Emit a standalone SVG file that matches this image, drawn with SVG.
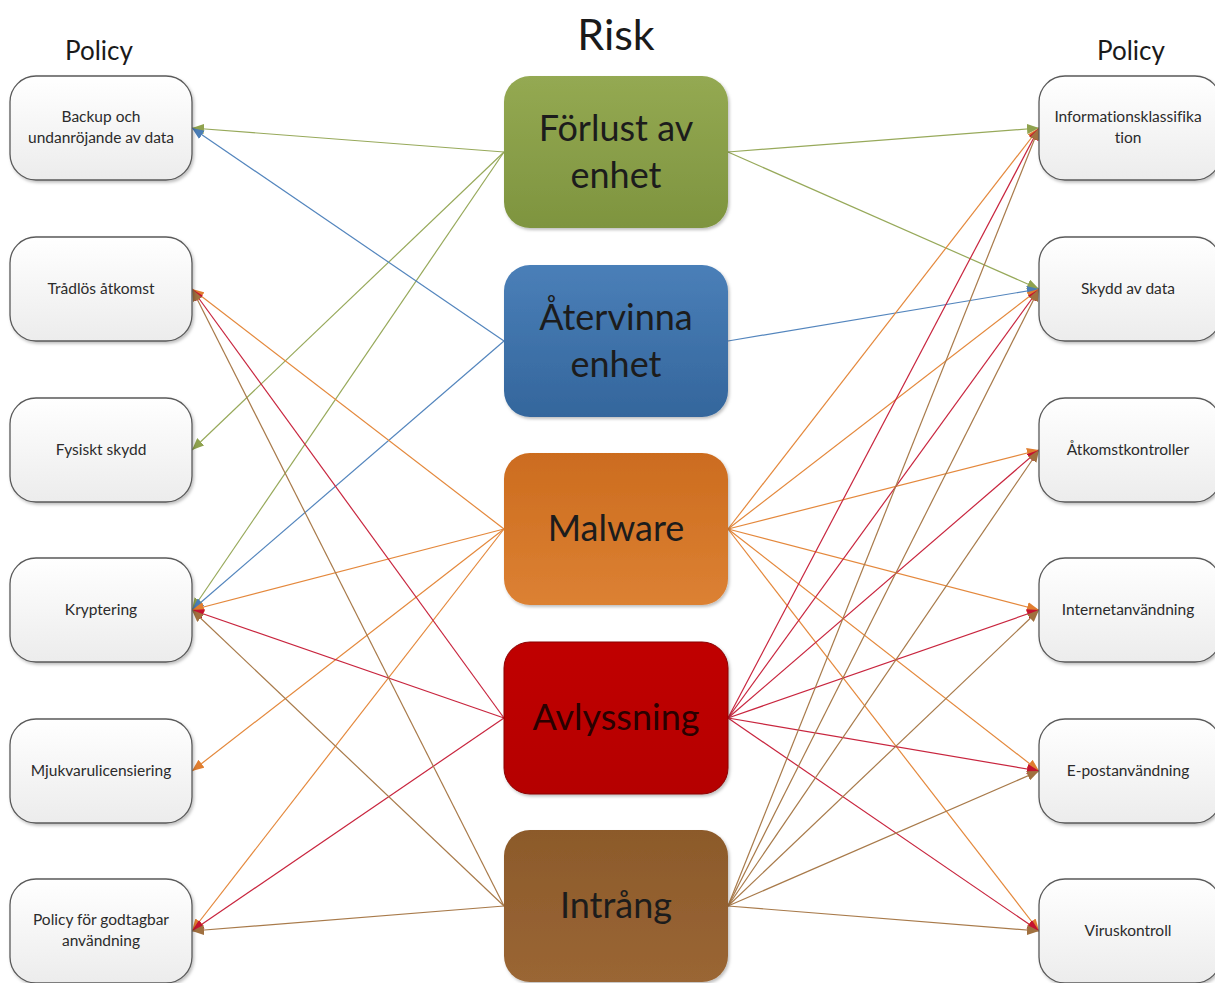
<svg xmlns="http://www.w3.org/2000/svg" width="1215" height="983" viewBox="0 0 1215 983">
<style>
text{font-variant-ligatures:none}
.title{font-family:Lato,"Liberation Sans",sans-serif;fill:#1a1a1a;text-anchor:middle}
.pol rect{fill:url(#gPol);stroke:#5a5a5a;stroke-width:1.3}
.pol text{font-family:Lato,"Liberation Sans",sans-serif;font-size:15.5px;fill:#2b2b2b;text-anchor:middle}
.risk text{font-family:Lato,"Liberation Sans",sans-serif;font-size:36px;fill:#1c1c1c;text-anchor:middle}
.c line{stroke-width:1.2;fill:none}
.g{stroke:#97a95a;marker-end:url(#mG)}
.b{stroke:#5385bd;marker-end:url(#mB)}
.o{stroke:#e4883c;marker-end:url(#mO)}
.r{stroke:#c8253e;marker-end:url(#mR)}
.n{stroke:#a87a4a;marker-end:url(#mN)}
</style>
<defs>
<linearGradient id="gPol" x1="0" y1="0" x2="0" y2="1"><stop offset="0" stop-color="#ffffff"/><stop offset="1" stop-color="#ececec"/></linearGradient>
<linearGradient id="gF" x1="0" y1="0" x2="0" y2="1"><stop offset="0" stop-color="#94a952"/><stop offset="1" stop-color="#7e943f"/></linearGradient>
<linearGradient id="gA" x1="0" y1="0" x2="0" y2="1"><stop offset="0" stop-color="#4a7fb8"/><stop offset="1" stop-color="#34669c"/></linearGradient>
<linearGradient id="gM" x1="0" y1="0" x2="0" y2="1"><stop offset="0" stop-color="#cc6c1f"/><stop offset="1" stop-color="#dc8133"/></linearGradient>
<linearGradient id="gV" x1="0" y1="0" x2="0" y2="1"><stop offset="0" stop-color="#c00000"/><stop offset="1" stop-color="#b50000"/></linearGradient>
<linearGradient id="gI" x1="0" y1="0" x2="0" y2="1"><stop offset="0" stop-color="#8c5a2b"/><stop offset="1" stop-color="#9a6634"/></linearGradient>
<filter id="sh" x="-10%" y="-10%" width="130%" height="130%"><feDropShadow dx="1.5" dy="2" stdDeviation="1.5" flood-color="#000" flood-opacity="0.25"/></filter>
<marker id="mG" markerUnits="userSpaceOnUse" markerWidth="13" markerHeight="10" refX="12" refY="5" orient="auto"><path d="M0,0 L12,5 L0,10 z" fill="#8fa24e"/></marker>
<marker id="mB" markerUnits="userSpaceOnUse" markerWidth="13" markerHeight="10" refX="12" refY="5" orient="auto"><path d="M0,0 L12,5 L0,10 z" fill="#4a7db6"/></marker>
<marker id="mO" markerUnits="userSpaceOnUse" markerWidth="13" markerHeight="10" refX="12" refY="5" orient="auto"><path d="M0,0 L12,5 L0,10 z" fill="#e07e30"/></marker>
<marker id="mR" markerUnits="userSpaceOnUse" markerWidth="13" markerHeight="10" refX="12" refY="5" orient="auto"><path d="M0,0 L12,5 L0,10 z" fill="#c41230"/></marker>
<marker id="mN" markerUnits="userSpaceOnUse" markerWidth="13" markerHeight="10" refX="12" refY="5" orient="auto"><path d="M0,0 L12,5 L0,10 z" fill="#a0703f"/></marker>
</defs>
<rect width="1215" height="983" fill="#ffffff"/>
<text class="title" x="99" y="60" font-size="26">Policy</text>
<text class="title" x="616" y="50" font-size="43">Risk</text>
<text class="title" x="1131" y="60" font-size="26">Policy</text>

<g id="connectors" class="c">
<line class="g" x1="504" y1="152" x2="192" y2="128"/>
<line class="g" x1="504" y1="152" x2="192" y2="450"/>
<line class="g" x1="504" y1="152" x2="192" y2="610"/>
<line class="b" x1="504" y1="341" x2="192" y2="128"/>
<line class="b" x1="504" y1="341" x2="192" y2="610"/>
<line class="o" x1="504" y1="529" x2="192" y2="289"/>
<line class="o" x1="504" y1="529" x2="192" y2="610"/>
<line class="o" x1="504" y1="529" x2="192" y2="771"/>
<line class="o" x1="504" y1="529" x2="192" y2="931"/>
<line class="r" x1="504" y1="718" x2="192" y2="289"/>
<line class="r" x1="504" y1="718" x2="192" y2="610"/>
<line class="r" x1="504" y1="718" x2="192" y2="931"/>
<line class="n" x1="504" y1="906" x2="192" y2="289"/>
<line class="n" x1="504" y1="906" x2="192" y2="610"/>
<line class="n" x1="504" y1="906" x2="192" y2="931"/>
<line class="g" x1="728" y1="152" x2="1039" y2="128"/>
<line class="g" x1="728" y1="152" x2="1039" y2="289"/>
<line class="b" x1="728" y1="341" x2="1039" y2="289"/>
<line class="o" x1="728" y1="529" x2="1039" y2="128"/>
<line class="o" x1="728" y1="529" x2="1039" y2="289"/>
<line class="o" x1="728" y1="529" x2="1039" y2="450"/>
<line class="o" x1="728" y1="529" x2="1039" y2="610"/>
<line class="o" x1="728" y1="529" x2="1039" y2="771"/>
<line class="o" x1="728" y1="529" x2="1039" y2="931"/>
<line class="r" x1="728" y1="718" x2="1039" y2="128"/>
<line class="r" x1="728" y1="718" x2="1039" y2="289"/>
<line class="r" x1="728" y1="718" x2="1039" y2="450"/>
<line class="r" x1="728" y1="718" x2="1039" y2="610"/>
<line class="r" x1="728" y1="718" x2="1039" y2="771"/>
<line class="r" x1="728" y1="718" x2="1039" y2="931"/>
<line class="n" x1="728" y1="906" x2="1039" y2="128"/>
<line class="n" x1="728" y1="906" x2="1039" y2="289"/>
<line class="n" x1="728" y1="906" x2="1039" y2="450"/>
<line class="n" x1="728" y1="906" x2="1039" y2="610"/>
<line class="n" x1="728" y1="906" x2="1039" y2="771"/>
<line class="n" x1="728" y1="906" x2="1039" y2="931"/>
</g>

<g id="backup" class="pol"><rect x="10" y="76" width="182" height="104" rx="26" filter="url(#sh)"/><text x="101" y="122">Backup och</text><text x="101" y="143">undanröjande av data</text></g>
<g id="tradlos" class="pol"><rect x="10" y="237" width="182" height="104" rx="26" filter="url(#sh)"/><text x="101" y="294">Trådlös åtkomst</text></g>
<g id="fysiskt" class="pol"><rect x="10" y="398" width="182" height="104" rx="26" filter="url(#sh)"/><text x="101" y="455">Fysiskt skydd</text></g>
<g id="kryptering" class="pol"><rect x="10" y="558" width="182" height="104" rx="26" filter="url(#sh)"/><text x="101" y="615">Kryptering</text></g>
<g id="mjukvaru" class="pol"><rect x="10" y="719" width="182" height="104" rx="26" filter="url(#sh)"/><text x="101" y="776">Mjukvarulicensiering</text></g>
<g id="godtagbar" class="pol"><rect x="10" y="879" width="182" height="104" rx="26" filter="url(#sh)"/><text x="101" y="925">Policy för godtagbar</text><text x="101" y="946">användning</text></g>

<g id="infoklass" class="pol"><rect x="1039" y="76" width="182" height="104" rx="26" filter="url(#sh)"/><text x="1128" y="122">Informationsklassifika</text><text x="1128" y="143">tion</text></g>
<g id="skydd" class="pol"><rect x="1039" y="237" width="182" height="104" rx="26" filter="url(#sh)"/><text x="1128" y="294">Skydd av data</text></g>
<g id="atkomst" class="pol"><rect x="1039" y="398" width="182" height="104" rx="26" filter="url(#sh)"/><text x="1128" y="455">Åtkomstkontroller</text></g>
<g id="internet" class="pol"><rect x="1039" y="558" width="182" height="104" rx="26" filter="url(#sh)"/><text x="1128" y="615">Internetanvändning</text></g>
<g id="epost" class="pol"><rect x="1039" y="719" width="182" height="104" rx="26" filter="url(#sh)"/><text x="1128" y="776">E-postanvändning</text></g>
<g id="virus" class="pol"><rect x="1039" y="879" width="182" height="104" rx="26" filter="url(#sh)"/><text x="1128" y="936">Viruskontroll</text></g>

<g id="forlust" class="risk"><rect x="504" y="76" width="224" height="152" rx="26" fill="url(#gF)" filter="url(#sh)"/><text x="616" y="141">Förlust av</text><text x="616" y="188">enhet</text></g>
<g id="atervinna" class="risk"><rect x="504" y="265" width="224" height="152" rx="26" fill="url(#gA)" filter="url(#sh)"/><text x="616" y="330">Återvinna</text><text x="616" y="377">enhet</text></g>
<g id="malware" class="risk"><rect x="504" y="453" width="224" height="152" rx="26" fill="url(#gM)" filter="url(#sh)"/><text x="616" y="541">Malware</text></g>
<g id="avlyssning" class="risk"><rect x="504" y="642" width="224" height="152" rx="26" fill="url(#gV)" stroke="#8a0000" stroke-width="1" filter="url(#sh)"/><text x="616" y="730" style="fill:#2a0000">Avlyssning</text></g>
<g id="intrang" class="risk"><rect x="504" y="830" width="224" height="152" rx="26" fill="url(#gI)" filter="url(#sh)"/><text x="616" y="918">Intrång</text></g>
</svg>
